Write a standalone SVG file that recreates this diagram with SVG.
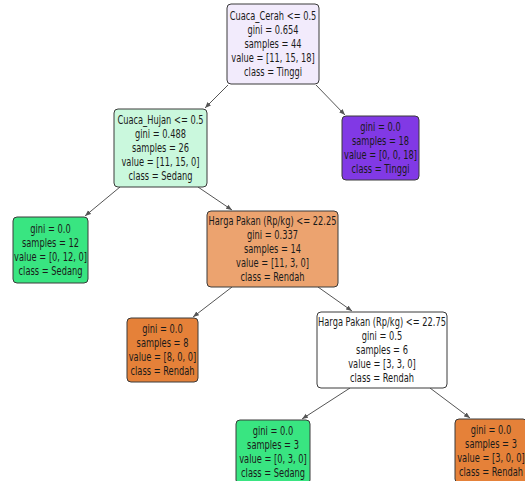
<svg xmlns="http://www.w3.org/2000/svg" width="525" height="481" viewBox="0 0 525 481">
<defs>
<style>
.box{stroke:#3a3a3a;stroke-width:1}
.t{font-family:"DejaVu Sans",sans-serif;font-size:12px;fill:#1a1a1a;text-anchor:middle}
.edge{stroke:#555;stroke-width:1;fill:none;marker-end:url(#arr)}
</style>
<marker id="arr" viewBox="0 0 10 10" refX="10" refY="5" markerWidth="6" markerHeight="6" orient="auto" markerUnits="userSpaceOnUse">
<path d="M0,1 L10,5 L0,9 z" fill="#555"/>
</marker>
</defs>
<rect width="525" height="481" fill="#fff"/>
<g id="connectors">
<line class="edge" x1="228" y1="85" x2="205" y2="108"/>
<line class="edge" x1="316" y1="85" x2="345" y2="115"/>
<line class="edge" x1="120" y1="187" x2="85" y2="216"/>
<line class="edge" x1="198" y1="187" x2="232" y2="210"/>
<line class="edge" x1="232" y1="287" x2="193" y2="317"/>
<line class="edge" x1="318" y1="287" x2="352" y2="311"/>
<line class="edge" x1="350" y1="388" x2="302" y2="419"/>
<line class="edge" x1="430" y1="388" x2="470" y2="418"/>
</g>
<g id="root">
<rect class="box" x="227" y="4" width="92" height="80" rx="4" fill="#f2ebfc"/>
<g transform="translate(273,0) scale(0.69,1)">
<text class="t" x="0" y="20">Cuaca_Cerah &lt;= 0.5</text>
<text class="t" x="0" y="34">gini = 0.654</text>
<text class="t" x="0" y="48">samples = 44</text>
<text class="t" x="0" y="62">value = [11, 15, 18]</text>
<text class="t" x="0" y="76">class = Tinggi</text>
</g>
</g>
<g id="hujan">
<rect class="box" x="114" y="109" width="93" height="78" rx="4" fill="#caf8dd"/>
<g transform="translate(160.5,0) scale(0.69,1)">
<text class="t" x="0" y="124">Cuaca_Hujan &lt;= 0.5</text>
<text class="t" x="0" y="138">gini = 0.488</text>
<text class="t" x="0" y="152">samples = 26</text>
<text class="t" x="0" y="166">value = [11, 15, 0]</text>
<text class="t" x="0" y="180">class = Sedang</text>
</g>
</g>
<g id="leaf_tinggi">
<rect class="box" x="342" y="116" width="77" height="64" rx="4" fill="#8139e5"/>
<g transform="translate(380.5,0) scale(0.69,1)">
<text class="t" x="0" y="131">gini = 0.0</text>
<text class="t" x="0" y="145">samples = 18</text>
<text class="t" x="0" y="159">value = [0, 0, 18]</text>
<text class="t" x="0" y="173">class = Tinggi</text>
</g>
</g>
<g id="leaf_sedang12">
<rect class="box" x="13" y="217" width="75" height="66" rx="4" fill="#39e581"/>
<g transform="translate(50.5,0) scale(0.69,1)">
<text class="t" x="0" y="233">gini = 0.0</text>
<text class="t" x="0" y="247">samples = 12</text>
<text class="t" x="0" y="261">value = [0, 12, 0]</text>
<text class="t" x="0" y="275">class = Sedang</text>
</g>
</g>
<g id="harga1">
<rect class="box" x="207" y="211" width="131" height="76" rx="4" fill="#eca36f"/>
<g transform="translate(272.5,0) scale(0.69,1)">
<text class="t" x="0" y="225">Harga Pakan (Rp/kg) &lt;= 22.25</text>
<text class="t" x="0" y="239">gini = 0.337</text>
<text class="t" x="0" y="253">samples = 14</text>
<text class="t" x="0" y="267">value = [11, 3, 0]</text>
<text class="t" x="0" y="281">class = Rendah</text>
</g>
</g>
<g id="leaf_rendah8">
<rect class="box" x="127" y="318" width="71" height="64" rx="4" fill="#e58139"/>
<g transform="translate(162.5,0) scale(0.69,1)">
<text class="t" x="0" y="333">gini = 0.0</text>
<text class="t" x="0" y="347">samples = 8</text>
<text class="t" x="0" y="361">value = [8, 0, 0]</text>
<text class="t" x="0" y="375">class = Rendah</text>
</g>
</g>
<g id="harga2">
<rect class="box" x="317" y="312" width="130" height="76" rx="4" fill="#ffffff"/>
<g transform="translate(382,0) scale(0.69,1)">
<text class="t" x="0" y="326">Harga Pakan (Rp/kg) &lt;= 22.75</text>
<text class="t" x="0" y="340">gini = 0.5</text>
<text class="t" x="0" y="354">samples = 6</text>
<text class="t" x="0" y="368">value = [3, 3, 0]</text>
<text class="t" x="0" y="382">class = Rendah</text>
</g>
</g>
<g id="leaf_sedang3">
<rect class="box" x="236" y="420" width="74" height="64" rx="4" fill="#39e581"/>
<g transform="translate(273,0) scale(0.69,1)">
<text class="t" x="0" y="435">gini = 0.0</text>
<text class="t" x="0" y="449">samples = 3</text>
<text class="t" x="0" y="463">value = [0, 3, 0]</text>
<text class="t" x="0" y="477">class = Sedang</text>
</g>
</g>
<g id="leaf_rendah3">
<rect class="box" x="455" y="419" width="72" height="64" rx="4" fill="#e58139"/>
<g transform="translate(491,0) scale(0.69,1)">
<text class="t" x="0" y="434">gini = 0.0</text>
<text class="t" x="0" y="448">samples = 3</text>
<text class="t" x="0" y="462">value = [3, 0, 0]</text>
<text class="t" x="0" y="476">class = Rendah</text>
</g>
</g>
</svg>
